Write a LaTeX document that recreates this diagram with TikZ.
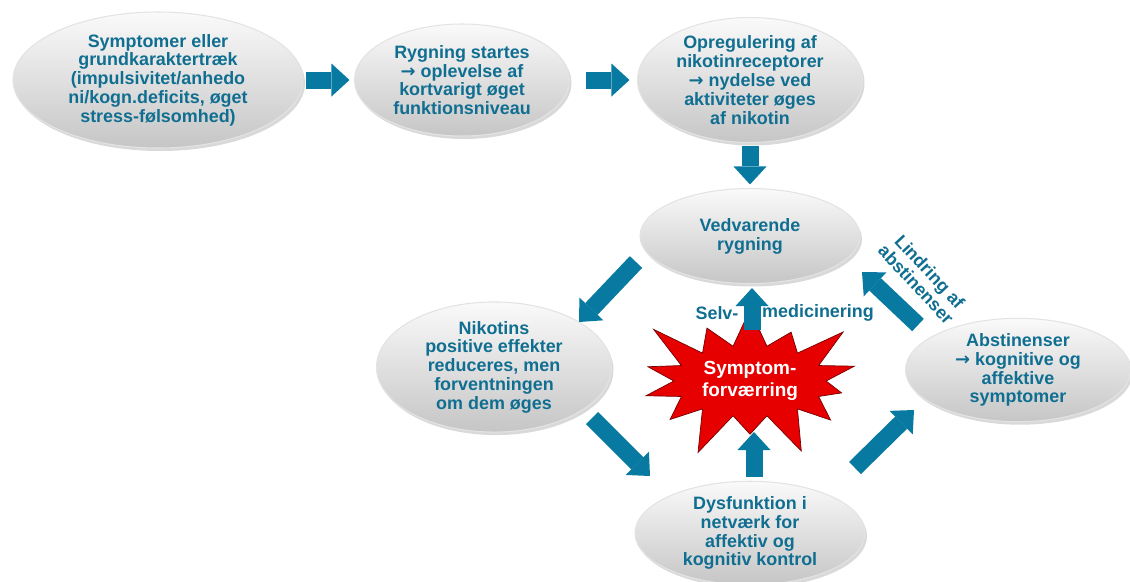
\documentclass[tikz,border=0pt]{standalone}
\usepackage{fontspec}
\setmainfont{Liberation Sans}
\newfontfamily\arrfont{DejaVu Sans}
\usepackage{tikz}
\usetikzlibrary{positioning,shapes,shapes.symbols,arrows.meta,shadows}
\definecolor{txtblue}{RGB}{16,110,145}
\definecolor{arrblue}{RGB}{8,121,160}
\definecolor{burstred}{RGB}{230,0,0}
\newcommand{\ra}{{\arrfont\bfseries →}}
\tikzset{
  bubble/.style={ellipse, inner sep=0pt, align=center,
    font=\bfseries\fontsize{10.2}{10.7}\selectfont, text=txtblue,
    top color=gray!4, bottom color=gray!45, draw=gray!22, line width=0.6pt,
    drop shadow={opacity=0.3, shadow xshift=0.04cm, shadow yshift=-0.06cm}},
  fat/.style={draw=arrblue, line width=0.34cm,
    -{Triangle[width=0.66cm,length=0.36cm,line width=0pt]}},
  lbl/.style={font=\bfseries\fontsize{10.2}{10.7}\selectfont, text=txtblue, align=center}
}
\begin{document}
\begin{tikzpicture}
\useasboundingbox (0,0) rectangle (22.6,-11.62);
% top row
\node[bubble, minimum width=5.8cm, minimum height=2.72cm] (symp) at (3.16,-1.6)
  {Symptomer eller\\grundkaraktertræk\\(impulsivitet/anhedo\\ni/kogn.deficits, øget\\stress-følsomhed)};
\node[bubble, minimum width=4.3cm, minimum height=2.24cm] (rstart) at (9.24,-1.6)
  {Rygning startes\\\ra{} oplevelse af\\kortvarigt øget\\funktionsniveau};
\node[bubble, minimum width=4.5cm, minimum height=2.36cm] (opreg) at (15.0,-1.6)
  {Opregulering af\\nikotinreceptorer\\\ra{} nydelse ved\\aktiviteter øges\\af nikotin};
% cycle
\node[bubble, minimum width=4.4cm, minimum height=1.9cm] (vedv) at (15.0,-4.72)
  {Vedvarende\\rygning};
\node[bubble, minimum width=4.7cm, minimum height=2.0cm] (nikpos) at (9.88,-7.34)
  {Nikotins\\positive effekter\\reduceres, men\\forventningen\\om dem øges};
\node[bubble, minimum width=4.6cm, minimum height=1.9cm] (dysf) at (15.0,-10.66)
  {Dysfunktion i\\netværk for\\affektiv og\\kognitiv kontrol};
\node[bubble, minimum width=4.5cm, minimum height=1.96cm] (abst) at (20.36,-7.4)
  {Abstinenser\\\ra{} kognitive og\\affektive\\symptomer};
\node[starburst, starburst points=14, starburst point height=1.0cm,
  minimum width=4.8cm, minimum height=3.2cm, fill=burstred, draw=red!45!black,
  text=white, font=\bfseries\fontsize{10.8}{12.2}\selectfont, align=center]
  (burst) at (15.0,-7.62) {Symptom-\\forværring};
% arrows
\draw[fat, shorten <=0.04cm, shorten >=0.09cm] (symp.east) -- (rstart.west);
\draw[fat, shorten <=0.31cm, shorten >=0.15cm] (rstart.east) -- (opreg.west);
\draw[fat, shorten <=0.06cm, shorten >=0.07cm] (opreg.south) -- (vedv.north);
\draw[fat] ([shift={(-2.28,-0.52)}]vedv.center) -- ([shift={(1.7,0.9)}]nikpos.center);
\draw[fat] ([shift={(1.96,-1.02)}]nikpos.center) -- ([shift={(-2.0,1.14)}]dysf.center);
\draw[fat] ([shift={(0.08,1.12)}]dysf.center) -- ([shift={(0.08,-1.02)}]burst.center);
\draw[fat] ([shift={(0.04,1.02)}]burst.center) -- ([shift={(0.04,-1.04)}]vedv.center);
\draw[fat] ([shift={(2.1,1.3)}]dysf.center) -- ([shift={(-2.08,-0.8)}]abst.center);
\draw[fat] ([shift={(-2.0,0.9)}]abst.center) -- ([shift={(2.24,-0.72)}]vedv.center);
% labels
\node[lbl] (selv) at (14.34,-6.26) {Selv-};
\node[lbl] (medic) at (16.36,-6.26) {medicinering};
\node[lbl, rotate=-47] (lindr) at (18.46,-5.56) {Lindring af\\abstinenser};
\end{tikzpicture}
\end{document}
